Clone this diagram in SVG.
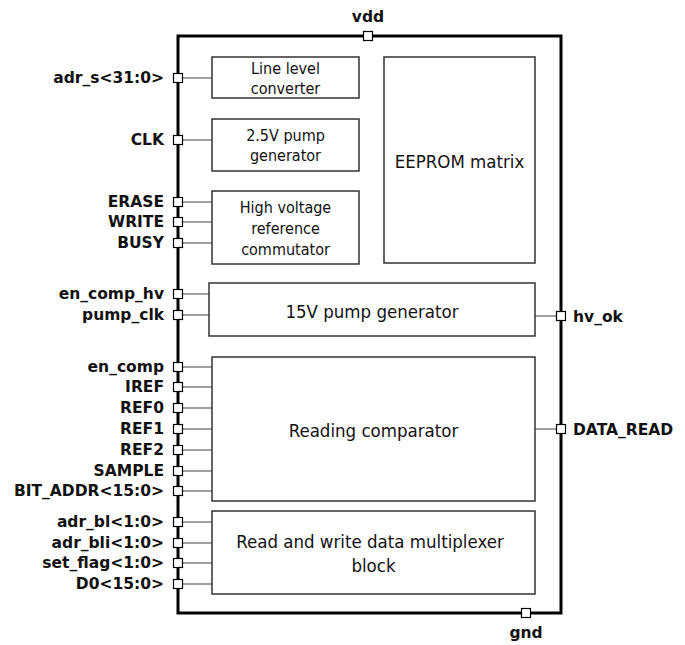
<svg xmlns="http://www.w3.org/2000/svg" width="685" height="645" viewBox="0 0 685 645">
<style>
.frame{fill:none;stroke:#000;stroke-width:3}
.box{fill:#fff;stroke:#333;stroke-width:1.5}
.wire{stroke:#444;stroke-width:1.2;fill:none}
.port{fill:#fff;stroke:#000;stroke-width:1.2}
.lbl{font-family:"DejaVu Sans",sans-serif;font-weight:bold;font-size:15.5px;fill:#111}
.l{text-anchor:end}
.t{font-family:"DejaVu Sans Condensed","DejaVu Sans",sans-serif;font-size:16px;fill:#111;text-anchor:middle}
.tb{font-family:"DejaVu Sans Condensed","DejaVu Sans",sans-serif;font-size:18.5px;fill:#111;text-anchor:middle}
</style>
<rect class="frame" x="178" y="36" width="383" height="577"/>
<g id="connectors">
<path class="wire" d="M183 78H212M183 140H212M183 202H212M183 222H212M183 243H212M183 294H209M183 315H209M183 367H212M183 387H212M183 408H212M183 429H212M183 450H212M183 471H212M183 491H212M183 522H212M183 543H212M183 563H212M183 584H212M535 316H556M535 429H556"/>
</g>
<g id="line_level_converter"><rect class="box" x="212" y="57" width="147" height="41"/><text class="t" x="285.5" y="74">Line level</text><text class="t" x="285.5" y="94">converter</text></g>
<g id="pump_2_5v"><rect class="box" x="212" y="119" width="147" height="52"/><text class="t" x="285.5" y="141">2.5V pump</text><text class="t" x="285.5" y="161">generator</text></g>
<g id="hv_ref_commutator"><rect class="box" x="212" y="191" width="147" height="73"/><text class="t" x="285.5" y="213">High voltage</text><text class="t" x="285.5" y="234">reference</text><text class="t" x="285.5" y="255">commutator</text></g>
<g id="eeprom_matrix"><rect class="box" x="384" y="57" width="151" height="206"/><text class="tb" x="459.5" y="168">EEPROM matrix</text></g>
<g id="pump_15v"><rect class="box" x="209" y="283" width="326" height="53"/><text class="tb" x="372" y="318">15V pump generator</text></g>
<g id="reading_comparator"><rect class="box" x="212" y="357" width="323" height="144"/><text class="tb" x="373.5" y="437">Reading comparator</text></g>
<g id="rw_mux"><rect class="box" x="212" y="511" width="323" height="83"/><text class="tb" x="370" y="548">Read and write data multiplexer</text><text class="tb" x="373.5" y="572">block</text></g>
<g id="ports">
<rect class="port" x="363.5" y="31.5" width="9" height="9"/>
<rect class="port" x="521.5" y="608.5" width="9" height="9"/>
<rect class="port" x="556.5" y="311.5" width="9" height="9"/>
<rect class="port" x="556.5" y="424.5" width="9" height="9"/>
<rect class="port" x="173.5" y="73.5" width="9" height="9"/>
<rect class="port" x="173.5" y="135.5" width="9" height="9"/>
<rect class="port" x="173.5" y="197.5" width="9" height="9"/>
<rect class="port" x="173.5" y="217.5" width="9" height="9"/>
<rect class="port" x="173.5" y="238.5" width="9" height="9"/>
<rect class="port" x="173.5" y="289.5" width="9" height="9"/>
<rect class="port" x="173.5" y="310.5" width="9" height="9"/>
<rect class="port" x="173.5" y="362.5" width="9" height="9"/>
<rect class="port" x="173.5" y="382.5" width="9" height="9"/>
<rect class="port" x="173.5" y="403.5" width="9" height="9"/>
<rect class="port" x="173.5" y="424.5" width="9" height="9"/>
<rect class="port" x="173.5" y="445.5" width="9" height="9"/>
<rect class="port" x="173.5" y="466.5" width="9" height="9"/>
<rect class="port" x="173.5" y="486.5" width="9" height="9"/>
<rect class="port" x="173.5" y="517.5" width="9" height="9"/>
<rect class="port" x="173.5" y="538.5" width="9" height="9"/>
<rect class="port" x="173.5" y="558.5" width="9" height="9"/>
<rect class="port" x="173.5" y="579.5" width="9" height="9"/>
</g>
<g id="labels">
<text class="lbl" x="368" y="22" text-anchor="middle">vdd</text>
<text class="lbl" x="526" y="638" text-anchor="middle">gnd</text>
<text class="lbl" x="573" y="322">hv_ok</text>
<text class="lbl" x="573" y="435">DATA_READ</text>
<text class="lbl l" x="164" y="83">adr_s&lt;31:0&gt;</text>
<text class="lbl l" x="164" y="145">CLK</text>
<text class="lbl l" x="164" y="207">ERASE</text>
<text class="lbl l" x="164" y="227">WRITE</text>
<text class="lbl l" x="164" y="248">BUSY</text>
<text class="lbl l" x="164" y="299">en_comp_hv</text>
<text class="lbl l" x="164" y="320">pump_clk</text>
<text class="lbl l" x="164" y="372">en_comp</text>
<text class="lbl l" x="164" y="392">IREF</text>
<text class="lbl l" x="164" y="413">REF0</text>
<text class="lbl l" x="164" y="434">REF1</text>
<text class="lbl l" x="164" y="455">REF2</text>
<text class="lbl l" x="164" y="476">SAMPLE</text>
<text class="lbl l" x="164" y="496">BIT_ADDR&lt;15:0&gt;</text>
<text class="lbl l" x="164" y="527">adr_bl&lt;1:0&gt;</text>
<text class="lbl l" x="164" y="548">adr_bli&lt;1:0&gt;</text>
<text class="lbl l" x="164" y="568">set_flag&lt;1:0&gt;</text>
<text class="lbl l" x="164" y="589">D0&lt;15:0&gt;</text>
</g>
</svg>
